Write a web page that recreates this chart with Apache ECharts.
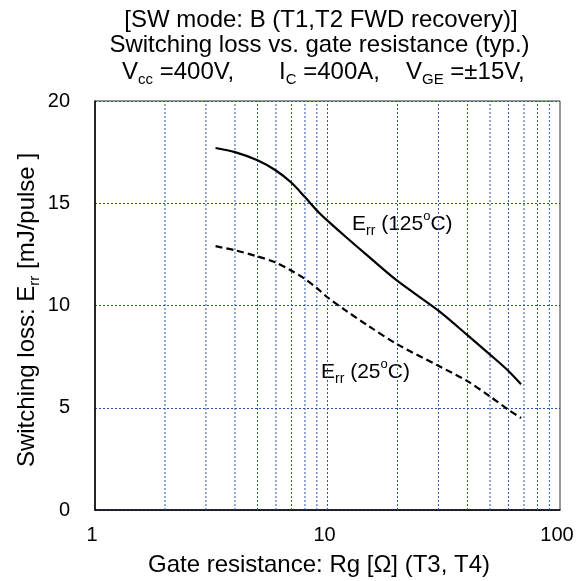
<!DOCTYPE html>
<html><head><meta charset="utf-8">
<script src="https://cdn.jsdelivr.net/npm/echarts@6/dist/echarts.min.js"></script>
<style>html,body{margin:0;padding:0;background:#fff}#c{width:583px;height:581px}</style>
</head><body><div id="c"></div>
<script>
// ---- data ----
var rg125 = [3.3, 4, 5, 6, 7, 8, 9, 10, 12, 15, 20, 30, 40, 50, 60, 68];
var err125 = [17.7, 17.5, 17.1, 16.6, 16.0, 15.3, 14.65, 14.15, 13.35, 12.4, 11.2, 9.75, 8.55, 7.6, 6.8, 6.15];
var rg25 = [3.3, 4, 5, 6, 7, 8, 9, 10, 12, 15, 20, 30, 40, 50, 60, 68];
var err25 = [12.9, 12.7, 12.4, 12.1, 11.7, 11.3, 10.85, 10.4, 9.75, 9.0, 8.1, 7.05, 6.3, 5.55, 4.9, 4.5];
var xGridValues = [2, 3, 4, 5, 6, 7, 8, 9, 10, 20, 30, 40, 50, 60, 70, 80, 90];
var yMin = 0, yMax = 20, yStep = 5;

var FONT = '"Liberation Sans", Arial, sans-serif';
var gridBlue = '#2a55a8';

function pairs(xs, ys) { return xs.map(function (x, i) { return [x, ys[i]]; }); }

var gridSeries = xGridValues.map(function (v) {
  return {
    type: 'line', data: [[v, yMin], [v, yMax]], showSymbol: false, silent: true, z: 1,
    lineStyle: { color: gridBlue, width: 1, type: [2, 2] }, animation: false
  };
});

var rich24 = {
  n: { fontFamily: FONT, fontSize: 24, color: '#000', lineHeight: 30 },
  s: { fontFamily: FONT, fontSize: 15, color: '#000', lineHeight: 15, verticalAlign: 'bottom' }
};
var rich21 = {
  n: { fontFamily: FONT, fontSize: 21, color: '#000', lineHeight: 28 },
  s: { fontFamily: FONT, fontSize: 14, color: '#000', lineHeight: 14, verticalAlign: 'bottom' },
  p: { fontFamily: FONT, fontSize: 13, color: '#000', lineHeight: 13, verticalAlign: 'top' }
};

var chart = echarts.init(document.getElementById('c'), null, { renderer: 'canvas' });
chart.setOption({
  animation: false,
  backgroundColor: '#fff',
  grid: { left: 95, right: 23, top: 101, bottom: 71, show: true, borderColor: '#333', borderWidth: 1, backgroundColor: 'transparent' },
  xAxis: {
    type: 'log', logBase: 10, min: 1, max: 100,
    axisLine: { show: true, lineStyle: { color: '#000', width: 1.5 } },
    axisTick: { show: false },
    splitLine: { show: false },
    axisLabel: { fontFamily: FONT, fontSize: 20, color: '#000', margin: 15, padding: [0, 6, 0, 0] }
  },
  yAxis: {
    type: 'value', min: yMin, max: yMax, interval: yStep,
    axisLine: { show: true, lineStyle: { color: '#000', width: 1.5 } },
    axisTick: { show: false },
    splitLine: { show: true, lineStyle: { color: gridBlue, type: [2, 2], width: 1 } },
    axisLabel: { fontFamily: FONT, fontSize: 20, color: '#000', margin: 25 }
  },
  series: gridSeries.concat([
    {
      type: 'line', data: pairs(rg125, err125), smooth: 0.3, showSymbol: false,
      lineStyle: { color: '#000', width: 2.2 }, z: 5
    },
    {
      type: 'line', data: pairs(rg25, err25), smooth: 0.3, showSymbol: false,
      lineStyle: { color: '#000', width: 2.2, type: [7, 4] }, z: 5
    }
  ]),
  graphic: [
    { type: 'text', x: 321, y: 20, style: { text: '[SW mode: B (T1,T2 FWD recovery)]', font: '24px ' + FONT, fill: '#000', align: 'center', verticalAlign: 'middle' } },
    { type: 'text', x: 319.5, y: 45, style: { text: 'Switching loss vs. gate resistance (typ.)', font: '24px ' + FONT, fill: '#000', align: 'center', verticalAlign: 'middle' } },
    { type: 'text', x: 122, y: 72, style: { text: '{n|V}{s|cc}{n| =400V,}', rich: rich24, align: 'left', verticalAlign: 'middle' } },
    { type: 'text', x: 279, y: 72, style: { text: '{n|I}{s|C}{n| =400A,}', rich: rich24, align: 'left', verticalAlign: 'middle' } },
    { type: 'text', x: 406, y: 72, style: { text: '{n|V}{s|GE}{n| =±15V,}', rich: rich24, align: 'left', verticalAlign: 'middle' } },
    { type: 'text', x: 319, y: 565, style: { text: 'Gate resistance: Rg [Ω] (T3, T4)', font: '24px ' + FONT, fill: '#000', align: 'center', verticalAlign: 'middle' } },
    { type: 'text', x: 27, y: 310, rotation: Math.PI / 2, style: { text: '{n|Switching loss: E}{s|rr}{n| [mJ/pulse ]}', rich: rich24, align: 'center', verticalAlign: 'middle' } },
    { type: 'text', x: 352, y: 224, style: { text: '{n|E}{s|rr}{n| (125}{p|o}{n|C)}', rich: rich21, align: 'left', verticalAlign: 'middle' } },
    { type: 'text', x: 321, y: 372, style: { text: '{n|E}{s|rr}{n| (25}{p|o}{n|C)}', rich: rich21, align: 'left', verticalAlign: 'middle' } }
  ]
});
</script></body></html>
